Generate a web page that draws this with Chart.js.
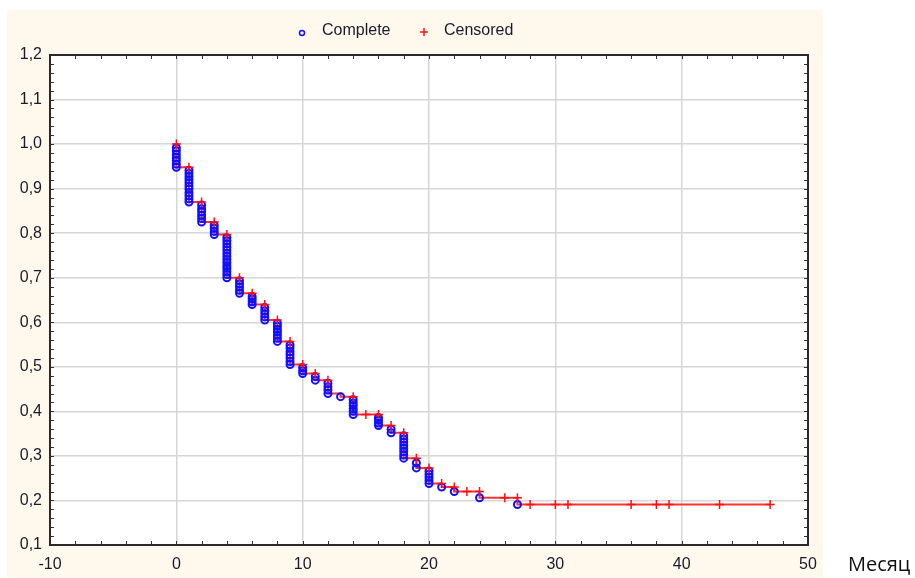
<!DOCTYPE html>
<html>
<head>
<meta charset="utf-8">
<script src="https://cdn.jsdelivr.net/npm/chart.js@4/dist/chart.umd.min.js"></script>
<style>
    html, body { margin: 0; padding: 0; background: #ffffff; }
    #wrap { position: relative; width: 915px; height: 578px; }
    #unit {
        position: absolute; left: 848px; top: 551px;
        font-family: "Open Sans", sans-serif; font-size: 20px; line-height: 26px; color: #111;
    }
</style>
</head>
<body>
<div id="wrap">
    <canvas id="kmChart" width="915" height="578"></canvas>
    <span id="unit">Месяц</span>
</div>
<script>
// Product-limit estimate
const stepTimes = [0, 0, 1, 2, 3, 4, 5, 6, 7, 8, 9, 10, 11, 12, 13, 14, 16, 17, 18, 19, 20, 21, 22, 24, 27, 47];
const stepSurv = [1.0, 0.948, 0.870, 0.825, 0.797, 0.700, 0.665, 0.640, 0.605, 0.557, 0.505, 0.485, 0.470,
    0.440, 0.433, 0.393, 0.368, 0.352, 0.295, 0.273, 0.238, 0.230, 0.220, 0.206, 0.191, 0.191];

// Complete observations (deaths), grouped by month
const completeTimes = [0, 1, 2, 3, 4, 5, 6, 7, 8, 9, 10, 11, 12, 13, 14, 16, 17, 18, 19, 20, 21, 22, 24, 27];
const completeSurv = [
    [0.992, 0.985, 0.977, 0.970, 0.963, 0.955, 0.948],
    [0.941, 0.934, 0.927, 0.920, 0.913, 0.906, 0.899, 0.891, 0.884, 0.877, 0.870],
    [0.863, 0.855, 0.848, 0.840, 0.833, 0.825],
    [0.818, 0.811, 0.804, 0.797],
    [0.790, 0.783, 0.776, 0.769, 0.762, 0.755, 0.748, 0.741, 0.734, 0.727, 0.721, 0.714, 0.707, 0.700],
    [0.693, 0.686, 0.679, 0.672, 0.665],
    [0.658, 0.652, 0.646, 0.640],
    [0.633, 0.626, 0.619, 0.612, 0.605],
    [0.598, 0.591, 0.584, 0.578, 0.571, 0.564, 0.557],
    [0.549, 0.542, 0.534, 0.527, 0.520, 0.512, 0.505],
    [0.498, 0.491, 0.485],
    [0.478, 0.470],
    [0.463, 0.455, 0.448, 0.440],
    [0.433],
    [0.426, 0.419, 0.413, 0.406, 0.400, 0.393],
    [0.386, 0.380, 0.374, 0.368],
    [0.360, 0.352],
    [0.345, 0.338, 0.331, 0.324, 0.317, 0.310, 0.302, 0.295],
    [0.284, 0.273],
    [0.266, 0.259, 0.252, 0.245, 0.238],
    [0.230],
    [0.220],
    [0.206],
    [0.191]
];

// Censored observations
const censoredTimes = [0, 1, 2, 3, 4, 5, 6, 7, 8, 9, 10, 11, 12, 14, 15, 16, 17, 18, 19, 20, 21, 22, 23, 24,
    26, 27, 28, 30, 31, 36, 38, 39, 43, 47];
const censoredSurv = [1.0, 0.948, 0.870, 0.825, 0.797, 0.700, 0.665, 0.640, 0.605, 0.557, 0.505, 0.485, 0.470,
    0.433, 0.393, 0.393, 0.368, 0.352, 0.295, 0.273, 0.238, 0.230, 0.220, 0.220,
    0.206, 0.206, 0.191, 0.191, 0.191, 0.191, 0.191, 0.191, 0.191, 0.191];

const xTicks = [-10, 0, 10, 20, 30, 40, 50];
const yTicks = [0.1, 0.2, 0.3, 0.4, 0.5, 0.6, 0.7, 0.8, 0.9, 1.0, 1.1, 1.2];

document.addEventListener('DOMContentLoaded', () => {
    const stepData = stepTimes.map((t, i) => ({ x: t, y: stepSurv[i] }));
    const completeData = [];
    completeTimes.forEach((t, i) => {
        completeSurv[i].forEach(v => completeData.push({ x: t, y: v }));
    });
    const censoredData = censoredTimes.map((t, i) => ({ x: t, y: censoredSurv[i] }));

    const fmt = v => v.toFixed(1).replace('.', ',');
    const textColor = '#1a1a2a';

    // cream panel, white plot area, frame and inner minor ticks
    const frame = {
        id: 'frame',
        beforeDraw(chart) {
            const { ctx, chartArea: a } = chart;
            ctx.save();
            ctx.fillStyle = '#fff8ec';
            ctx.fillRect(7, 10, 816, 568);
            ctx.fillStyle = '#ffffff';
            ctx.fillRect(a.left, a.top, a.right - a.left, a.bottom - a.top);
            ctx.restore();
        },
        afterDraw(chart) {
            const { ctx, chartArea: a, scales } = chart;
            ctx.save();
            ctx.strokeStyle = '#333';
            ctx.lineWidth = 1;
            ctx.beginPath();
            for (let v = -10; v <= 50; v += 2) {
                const px = Math.round(scales.x.getPixelForValue(v)) + 0.5;
                ctx.moveTo(px, a.bottom); ctx.lineTo(px, a.bottom - 4);
                ctx.moveTo(px, a.top); ctx.lineTo(px, a.top + 4);
            }
            for (let k = 5; k <= 60; k++) {
                const py = Math.round(scales.y.getPixelForValue(k / 50)) + 0.5;
                ctx.moveTo(a.left, py); ctx.lineTo(a.left + 4, py);
                ctx.moveTo(a.right, py); ctx.lineTo(a.right - 4, py);
            }
            ctx.stroke();
            ctx.lineWidth = 2;
            ctx.strokeStyle = '#2a2a2a';
            ctx.strokeRect(a.left, a.top, a.right - a.left, a.bottom - a.top);

            // legend
            const items = [
                { ds: chart.data.datasets[0], mx: 302, my: 33, r: 2.5, tx: 322 },
                { ds: chart.data.datasets[1], mx: 424, my: 32, r: 4, tx: 444 }
            ];
            ctx.font = '16px "Liberation Sans"';
            ctx.textBaseline = 'middle';
            items.forEach(it => {
                ctx.strokeStyle = it.ds.borderColor;
                ctx.fillStyle = it.ds.backgroundColor;
                ctx.lineWidth = 1.5;
                Chart.helpers.drawPoint(ctx, { pointStyle: it.ds.pointStyle, radius: it.r, rotation: 0, borderWidth: 1.5 }, it.mx, it.my);
                ctx.fillStyle = textColor;
                ctx.fillText(it.ds.label, it.tx, 31);
            });
            ctx.restore();
        }
    };

    new Chart(document.getElementById('kmChart'), {
        type: 'scatter',
        data: {
            datasets: [
                {
                    label: 'Complete',
                    data: completeData,
                    pointStyle: 'circle',
                    pointRadius: 3.5,
                    borderColor: '#1010ff',
                    backgroundColor: 'rgba(0,0,0,0)',
                    borderWidth: 2,
                    order: 1
                },
                {
                    label: 'Censored',
                    data: censoredData,
                    pointStyle: 'cross',
                    pointRadius: 4.5,
                    borderColor: '#ff1010',
                    backgroundColor: '#ff1010',
                    borderWidth: 1.5,
                    order: 0
                },
                {
                    label: 'curve',
                    type: 'line',
                    data: stepData,
                    stepped: 'before',
                    borderColor: '#ff3030',
                    borderWidth: 2,
                    pointRadius: 0,
                    fill: false,
                    order: 2
                }
            ]
        },
        options: {
            responsive: false,
            animation: false,
            layout: { padding: { left: 7, right: 107, top: 55, bottom: 0 } },
            plugins: {
                tooltip: { enabled: false },
                legend: { display: false }
            },
            scales: {
                x: {
                    type: 'linear',
                    min: -10,
                    max: 50,
                    afterBuildTicks: s => { s.ticks = xTicks.map(v => ({ value: v })); },
                    afterFit: s => { s.height = 33; },
                    grid: { color: '#d6d6d6', lineWidth: 1.5, drawTicks: false },
                    border: { display: false },
                    ticks: {
                        padding: 10,
                        color: textColor,
                        font: { family: 'Liberation Sans', size: 16 }
                    }
                },
                y: {
                    type: 'linear',
                    min: 0.1,
                    max: 1.2,
                    afterBuildTicks: s => { s.ticks = yTicks.map(v => ({ value: v })); },
                    afterFit: s => { s.width = 43; },
                    grid: { color: '#d6d6d6', lineWidth: 1.5, drawTicks: false },
                    border: { display: false },
                    ticks: {
                        padding: 8,
                        color: textColor,
                        font: { family: 'Liberation Sans', size: 16 },
                        callback: v => fmt(v)
                    }
                }
            }
        },
        plugins: [frame]
    });
});
</script>
</body>
</html>
